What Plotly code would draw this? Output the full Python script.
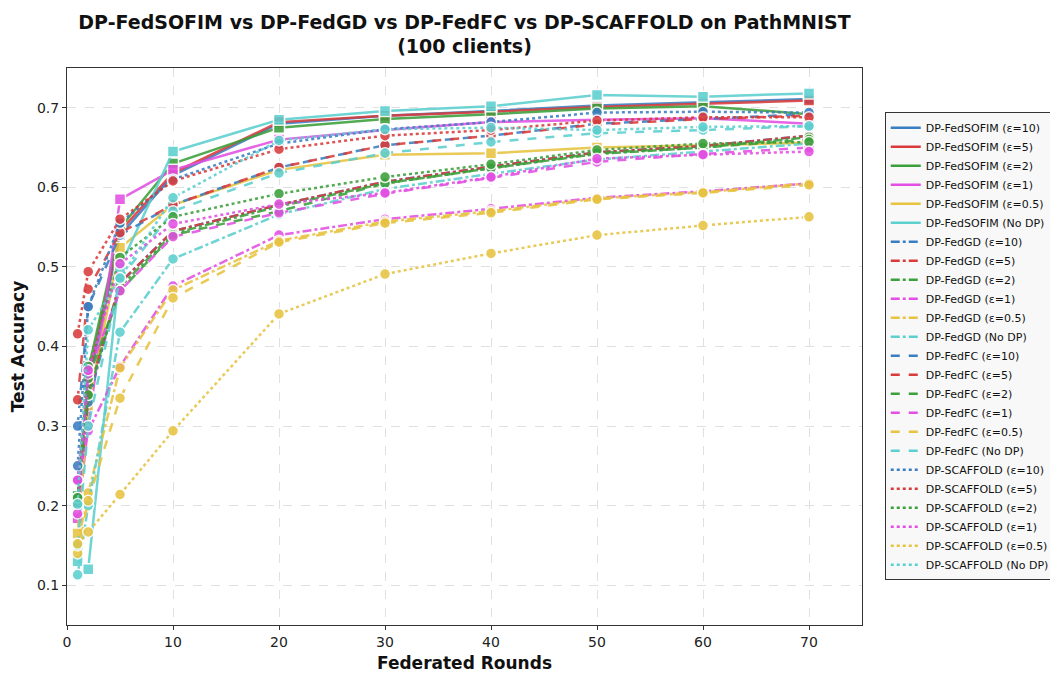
import plotly.graph_objects as go

rounds = [1, 2, 5, 10, 20, 30, 40, 50, 60, 70]
eps_labels = ["ε=10", "ε=5", "ε=2", "ε=1", "ε=0.5", "No DP"]

sofim = {
    "ε=10": [0.200, 0.350, 0.540, 0.615, 0.680, 0.690, 0.696, 0.703, 0.707, 0.711],
    "ε=5": [0.210, 0.360, 0.545, 0.618, 0.682, 0.690, 0.695, 0.701, 0.705, 0.709],
    "ε=2": [0.212, 0.370, 0.549, 0.630, 0.675, 0.686, 0.692, 0.699, 0.702, 0.692],
    "ε=1": [0.184, 0.300, 0.585, 0.622, 0.660, 0.672, 0.682, 0.685, 0.687, 0.680],
    "ε=0.5": [0.165, 0.326, 0.524, 0.578, 0.622, 0.641, 0.643, 0.650, 0.653, 0.656],
    "No DP": [0.130, 0.120, 0.500, 0.645, 0.685, 0.696, 0.702, 0.716, 0.714, 0.718],
}
fedgd = {
    "ε=10": [0.200, 0.330, 0.480, 0.545, 0.578, 0.607, 0.626, 0.644, 0.652, 0.665],
    "ε=5": [0.200, 0.340, 0.480, 0.545, 0.578, 0.607, 0.626, 0.644, 0.652, 0.665],
    "ε=2": [0.210, 0.339, 0.475, 0.542, 0.576, 0.605, 0.624, 0.642, 0.650, 0.663],
    "ε=1": [0.232, 0.294, 0.375, 0.476, 0.540, 0.560, 0.573, 0.587, 0.595, 0.605],
    "ε=0.5": [0.152, 0.216, 0.373, 0.471, 0.533, 0.557, 0.570, 0.586, 0.594, 0.605],
    "No DP": [0.113, 0.200, 0.418, 0.510, 0.566, 0.598, 0.617, 0.635, 0.645, 0.655],
}
fedfc = {
    "ε=10": [0.300, 0.450, 0.540, 0.578, 0.625, 0.653, 0.665, 0.680, 0.686, 0.692],
    "ε=5": [0.333, 0.472, 0.543, 0.578, 0.625, 0.653, 0.665, 0.679, 0.686, 0.690],
    "ε=2": [0.200, 0.360, 0.470, 0.540, 0.570, 0.605, 0.624, 0.643, 0.650, 0.660],
    "ε=1": [0.190, 0.366, 0.470, 0.538, 0.568, 0.592, 0.612, 0.632, 0.642, 0.650],
    "ε=0.5": [0.140, 0.206, 0.335, 0.461, 0.531, 0.555, 0.568, 0.585, 0.593, 0.603],
    "No DP": [0.150, 0.300, 0.485, 0.570, 0.618, 0.643, 0.657, 0.668, 0.672, 0.677],
}
scaffold = {
    "ε=10": [0.250, 0.450, 0.555, 0.610, 0.655, 0.673, 0.682, 0.694, 0.695, 0.694],
    "ε=5": [0.416, 0.494, 0.560, 0.608, 0.648, 0.665, 0.672, 0.684, 0.688, 0.688],
    "ε=2": [0.210, 0.375, 0.512, 0.563, 0.592, 0.613, 0.629, 0.647, 0.655, 0.657],
    "ε=1": [0.232, 0.370, 0.504, 0.554, 0.579, 0.593, 0.613, 0.636, 0.641, 0.645],
    "ε=0.5": [0.152, 0.167, 0.214, 0.294, 0.441, 0.491, 0.517, 0.540, 0.552, 0.563],
    "No DP": [0.202, 0.421, 0.486, 0.587, 0.659, 0.673, 0.675, 0.672, 0.676, 0.677],
}

methods = [
    ("DP-FedSOFIM", sofim, "solid", "square"),
    ("DP-FedGD", fedgd, "dashdot", "circle"),
    ("DP-FedFC", fedfc, "dash", "circle"),
    ("DP-SCAFFOLD", scaffold, "dot", "circle"),
]
colors = {
    "ε=10": "#3a7ec2",
    "ε=5": "#d93b3b",
    "ε=2": "#3ba03b",
    "ε=1": "#e34fe3",
    "ε=0.5": "#e8c33f",
    "No DP": "#5ccfcf",
}

fig = go.Figure()
for name, data, dash, sym in methods:
    for e in eps_labels:
        fig.add_trace(go.Scatter(
            x=rounds, y=data[e], mode="lines+markers",
            line=dict(color=colors[e], width=2.5, dash=dash),
            marker=dict(symbol=sym, size=11, color=colors[e],
                        line=dict(color="white", width=1.5)),
            opacity=0.88, showlegend=False, name=f"{name} ({e})",
        ))
# legend entries (lines only, like the reference)
for name, data, dash, sym in methods:
    for e in eps_labels:
        fig.add_trace(go.Scatter(
            x=[None], y=[None], mode="lines",
            line=dict(color=colors[e], width=2.5, dash=dash),
            name=f"{name} ({e})", showlegend=True,
        ))

axis_common = dict(
    showline=True, linecolor="#333333", linewidth=1, mirror=True,
    ticks="outside", ticklen=4, tickcolor="#333333",
    showgrid=True, gridcolor="#e0e0e0", griddash="dash", gridwidth=1,
    zeroline=False, tickfont=dict(size=14, color="#222"), automargin=False,
)
# page body has an 8px default margin, so the figure is sized to fit the window
fig.update_layout(
    width=1050, height=667,
    paper_bgcolor="white", plot_bgcolor="white",
    font=dict(family="DejaVu Sans", color="#111"),
    margin=dict(l=59, r=196, t=60, b=50, autoexpand=False),
    title=dict(
        text="<b>DP-FedSOFIM vs DP-FedGD vs DP-FedFC vs DP-SCAFFOLD on PathMNIST<br>(100 clients)</b>",
        x=0.5, xref="paper", xanchor="center",
        yref="container", y=0.969, yanchor="middle",
        font=dict(size=19, color="#111"),
    ),
    xaxis=dict(range=[0, 75], tickvals=[0, 10, 20, 30, 40, 50, 60, 70],
               title=dict(text="<b>Federated Rounds</b>", font=dict(size=17), standoff=8),
               **axis_common),
    yaxis=dict(range=[0.05, 0.75], tickvals=[0.1, 0.2, 0.3, 0.4, 0.5, 0.6, 0.7],
               tickformat=".1f",
               title=dict(text="<b>Test Accuracy</b>", font=dict(size=17)),
               **axis_common),
    legend=dict(xref="container", yref="container",
                x=0.835, xanchor="left", y=0.493, yanchor="middle",
                maxheight=0.95,
                bgcolor="#f8f8f8", bordercolor="#333333", borderwidth=1,
                font=dict(size=11, color="#111"), tracegroupgap=0,
                itemwidth=30),
)
fig.write_html("out.html")
